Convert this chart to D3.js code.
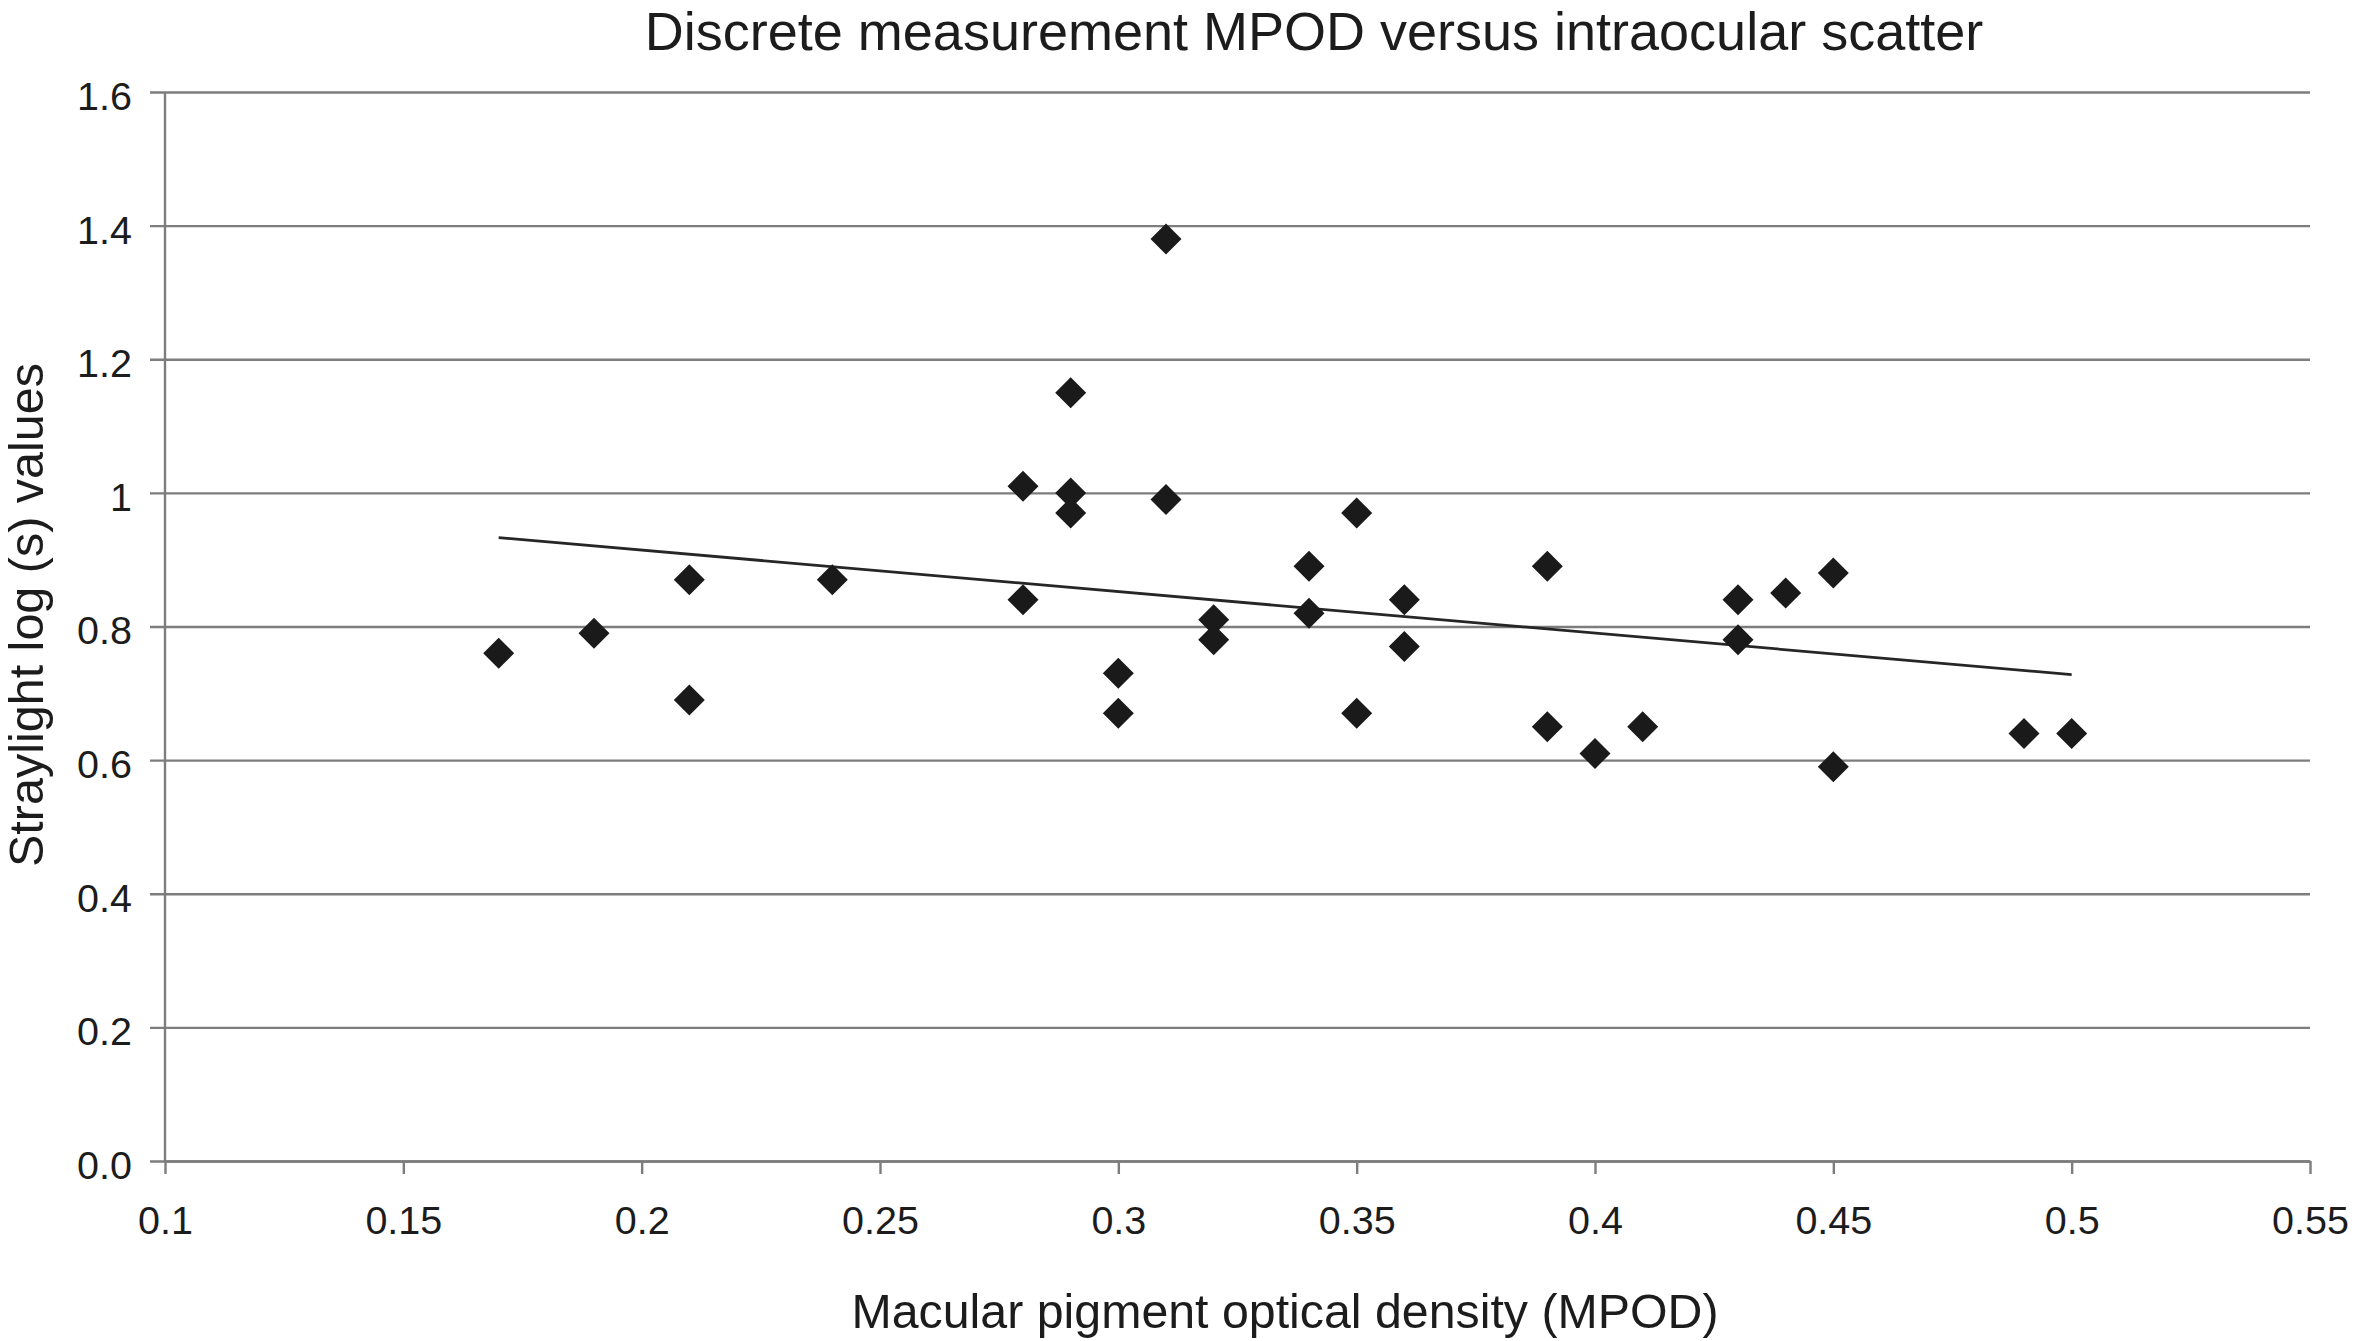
<!DOCTYPE html>
<html>
<head>
<meta charset="utf-8">
<script src="https://d3js.org/d3.v7.min.js"></script>
<style>
  body { margin: 0; background: #fff; }
  text { font-family: "Liberation Sans", Arial, sans-serif; fill: #1c1c1c; }
</style>
</head>
<body>
<div class="chart"></div>
<script>
// MPOD values (x) and straylight log(s) values (y)
const mpod = [0.17, 0.19, 0.21, 0.21, 0.24, 0.28, 0.28, 0.29, 0.29, 0.29,
              0.30, 0.30, 0.31, 0.31, 0.32, 0.32, 0.34, 0.34, 0.35, 0.35,
              0.36, 0.36, 0.39, 0.39, 0.40, 0.41, 0.43, 0.43, 0.44, 0.45,
              0.45, 0.49, 0.50];
const straylight = [0.76, 0.79, 0.87, 0.69, 0.87, 1.01, 0.84, 1.15, 1.00, 0.97,
                    0.73, 0.67, 1.38, 0.99, 0.81, 0.78, 0.89, 0.82, 0.97, 0.67,
                    0.84, 0.77, 0.89, 0.65, 0.61, 0.65, 0.84, 0.78, 0.85, 0.88,
                    0.59, 0.64, 0.64];

// linear trend line end points
const trendX = [0.17, 0.50];
const trendY = [0.933, 0.728];

const xTicks = [0.1, 0.15, 0.2, 0.25, 0.3, 0.35, 0.4, 0.45, 0.5, 0.55];
const yTicks = [0, 0.2, 0.4, 0.6, 0.8, 1.0, 1.2, 1.4, 1.6];

const titleText = 'Discrete measurement MPOD versus intraocular scatter';
const xLabel = 'Macular pigment optical density (MPOD)';
const yLabel = 'Straylight log (s) values';

const width = 2356, height = 1341;
const margin = { top: 92, right: 46, bottom: 180, left: 165 };
const innerW = width - margin.left - margin.right;
const innerH = height - margin.top - margin.bottom;

const svg = d3.select('.chart').append('svg')
    .attr('width', width)
    .attr('height', height);

const g = svg.append('g')
    .attr('transform', 'translate(' + margin.left + ',' + margin.top + ')');

const x = d3.scaleLinear().domain([0.1, 0.55]).range([0, innerW]);
const y = d3.scaleLinear().domain([0, 1.6]).range([innerH, 0]);

const gridColor = '#7d7d7d';

// horizontal gridlines (with the left tick stubs)
g.append('g')
    .call(d3.axisLeft(y).tickValues(yTicks).tickSize(-innerW).tickSizeOuter(0)
        .tickFormat(d => d === 0 ? '0.0' : d3.format('')(d)))
    .call(a => a.select('.domain').remove())
    .call(a => a.selectAll('.tick line')
        .attr('x1', -15).attr('stroke', gridColor).attr('stroke-width', 2.4))
    .call(a => a.selectAll('.tick text')
        .attr('x', -33).attr('dy', '0.44em')
        .style('font-size', '39.5px').attr('fill', '#1c1c1c'));

// y axis line
g.append('line')
    .attr('x1', 0).attr('x2', 0).attr('y1', 0).attr('y2', innerH)
    .attr('stroke', gridColor).attr('stroke-width', 2.4);

// x axis
g.append('g')
    .attr('transform', 'translate(0,' + innerH + ')')
    .call(d3.axisBottom(x).tickValues(xTicks).tickSize(13).tickSizeOuter(0)
        .tickFormat(d3.format('')))
    .call(a => a.select('.domain').attr('stroke', gridColor).attr('stroke-width', 2.4))
    .call(a => a.selectAll('.tick line').attr('stroke', gridColor).attr('stroke-width', 2.4))
    .call(a => a.selectAll('.tick text')
        .attr('y', 45).attr('dy', '0.71em')
        .style('font-size', '39.5px').attr('fill', '#1c1c1c'));

// trend line
g.append('path')
    .datum(d3.zip(trendX, trendY))
    .attr('fill', 'none')
    .attr('stroke', '#262626')
    .attr('stroke-width', 2.8)
    .attr('d', d3.line().x(d => x(d[0])).y(d => y(d[1])));

// diamond markers
const pts = d3.zip(mpod, straylight);
const r = 15.5;
g.selectAll('.dot')
    .data(pts)
    .enter().append('path')
    .attr('class', 'dot')
    .attr('transform', d => 'translate(' + x(d[0]) + ',' + y(d[1]) + ')')
    .attr('d', 'M0,' + (-r) + 'L' + r + ',0L0,' + r + 'L' + (-r) + ',0Z')
    .attr('fill', '#1a1a1a');

// titles
svg.append('text')
    .attr('x', 1314).attr('y', 50)
    .attr('text-anchor', 'middle')
    .style('font-size', '54px')
    .text(titleText);

svg.append('text')
    .attr('x', 1285).attr('y', 1328)
    .attr('text-anchor', 'middle')
    .style('font-size', '48.3px')
    .text(xLabel);

svg.append('text')
    .attr('transform', 'translate(43,615) rotate(-90)')
    .attr('text-anchor', 'middle')
    .style('font-size', '48.5px')
    .text(yLabel);
</script>
</body>
</html>
